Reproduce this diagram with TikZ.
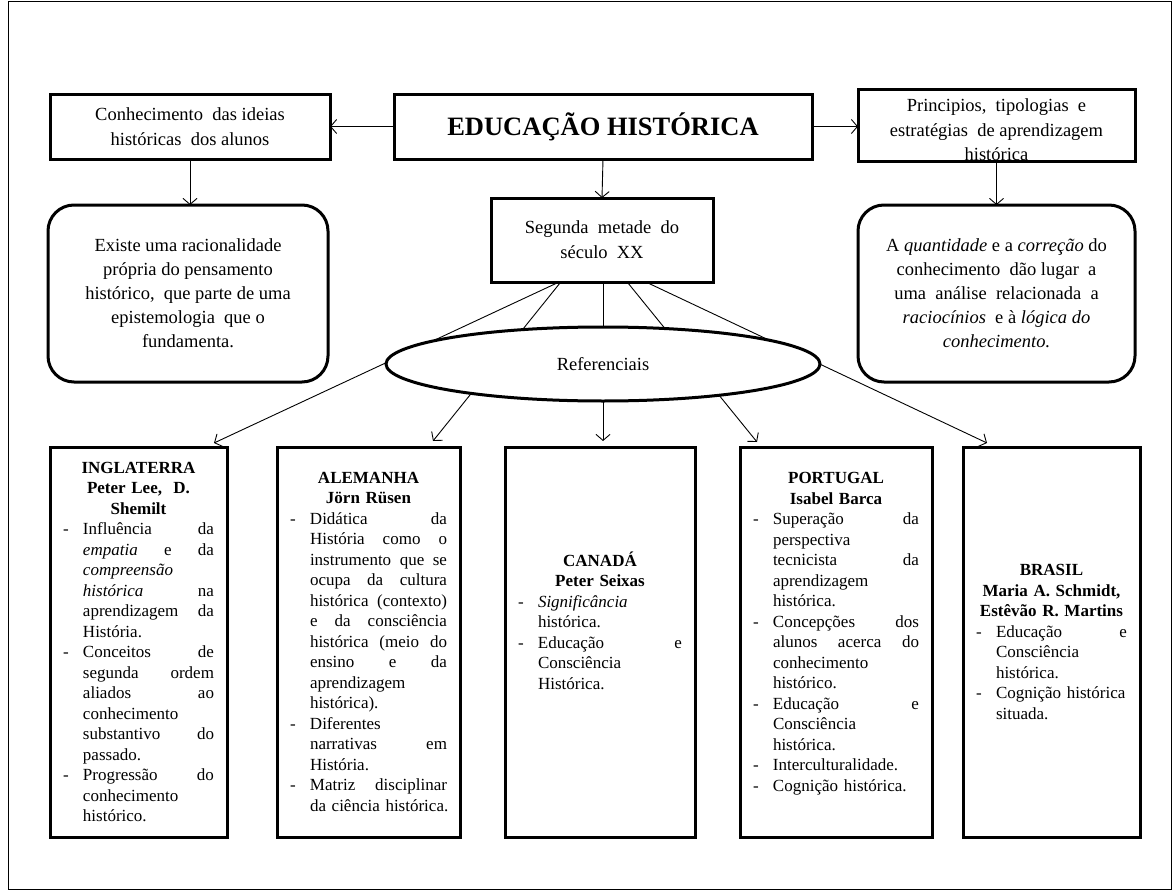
\documentclass[tikz,border=0pt]{standalone}
\usepackage{fontspec}
\setmainfont{Liberation Serif}
\usetikzlibrary{arrows.meta,shapes.geometric}
% first line of an item (with dash) and continuation lines
\newcommand{\dl}[1]{\hbox to\hsize{\hbox to 20pt{-\hfil}#1}}
\newcommand{\cl}[1]{\hbox to\hsize{\hskip20pt #1}}
\newcommand{\hdr}[1]{{\centering\bfseries #1\par}}
\newcommand{\bottompad}[1]{\hbox to\hsize{\vrule width0pt height#1 depth0pt\hfil}}
\tikzset{
  arr/.style={-{Straight Barb[length=6pt,width=14pt]}, line width=0.9pt},
  topbox/.style={draw, line width=3pt, inner sep=0pt, outer sep=0pt, align=center,
    font=\fontsize{18.5}{25}\selectfont},
  roundbox/.style={topbox, rounded corners=26pt, font=\fontsize{18.5}{24}\selectfont},
  botbox/.style={draw, line width=3pt, inner xsep=13pt, inner ysep=0pt, outer sep=0pt,
    minimum height=390pt, font=\fontsize{17}{20.5}\selectfont},
}
\begin{document}
\begin{tikzpicture}[x=1pt,y=-1pt]
\useasboundingbox (0,0) rectangle (1173,891);
\draw[line width=1.5pt] (8.5,1.5) rectangle (1171.5,889.5);

% top row
\node[topbox, minimum width=280, minimum height=65] (lt) at (190,126.5)
  {Conhecimento\ \ das ideias\\históricas\ \ dos alunos};
\node[topbox, minimum width=418, minimum height=65, font=\fontsize{26.5}{30}\selectfont] (edu) at (603,126.5)
  {\textbf{EDUCAÇÃO HISTÓRICA}};
\node[topbox, minimum width=277, minimum height=67, font=\fontsize{18.5}{24.5}\selectfont] (rt) at (996.5,125.5)
  {\rule{0pt}{22pt}Principios,\ \ tipologias\ \ e\\estratégias\ \ de aprendizagem\\histórica};

\node[roundbox, minimum width=280, minimum height=177] (lr) at (188,293.5)
  {Existe\ uma racionalidade\\própria do pensamento\\histórico,\ \ que parte de uma\\epistemologia\ \ que o\\fundamenta.};
\node[roundbox, minimum width=277, minimum height=177] (rr) at (996.5,293.5)
  {A \textit{quantidade} e a \textit{correção} do\\conhecimento\ \ dão lugar\ \ a\\uma\ \ análise\ \ relacionada\ \ a\\\textit{raciocínios}\ \ e à \textit{lógica do}\\\textit{conhecimento.}};

\node[topbox, minimum width=222, minimum height=84] (seg) at (602,240)
  {Segunda\ \ metade\ \ do\\século\ \ XX};

% bottom boxes
\node[botbox, text width=151pt] (ing) at (138.5,642)
  {\hdr{INGLATERRA\\Peter Lee,\ \ D.\\Shemilt}
   \dl{Influência\hfill da}
   \cl{\textit{empatia}\hfill e\hfill da}
   \cl{\textit{compreensão}\hfill}
   \cl{\textit{histórica}\hfill na}
   \cl{aprendizagem\hfill da}
   \cl{História.\hfill}
   \dl{Conceitos\hfill de}
   \cl{segunda\hfill ordem}
   \cl{aliados\hfill ao}
   \cl{conhecimento\hfill}
   \cl{substantivo\hfill do}
   \cl{passado.\hfill}
   \dl{Progressão\hfill do}
   \cl{conhecimento\hfill}
   \cl{histórico.\hfill}};
\node[botbox, text width=157pt] (ale) at (368.5,642)
  {\hdr{ALEMANHA\\Jörn Rüsen}
   \dl{Didática\hfill da}
   \cl{História\hfill como\hfill o}
   \cl{instrumento\hfill que\hfill se}
   \cl{ocupa\hfill da\hfill cultura}
   \cl{histórica\hfill (contexto)}
   \cl{e\hfill da\hfill consciência}
   \cl{histórica\hfill (meio\hfill do}
   \cl{ensino\hfill e\hfill da}
   \cl{aprendizagem\hfill}
   \cl{histórica).\hfill}
   \dl{Diferentes\hfill}
   \cl{narrativas\hfill em}
   \cl{História.\hfill}
   \dl{Matriz\hfill disciplinar}
   \cl{da ciência histórica.\hfill}};
\node[botbox, text width=164pt] (can) at (600,642)
  {\hdr{CANADÁ\\Peter Seixas}
   \dl{\textit{Significância}\hfill}
   \cl{histórica.\hfill}
   \dl{Educação\hfill e}
   \cl{Consciência\hfill}
   \cl{Histórica.\hfill}
   \bottompad{42pt}};
\node[botbox, text width=166pt] (por) at (836,642)
  {\hdr{PORTUGAL\\Isabel Barca}
   \dl{Superação\hfill da}
   \cl{perspectiva\hfill}
   \cl{tecnicista\hfill da}
   \cl{aprendizagem\hfill}
   \cl{histórica.\hfill}
   \dl{Concepções\hfill dos}
   \cl{alunos\hfill acerca\hfill do}
   \cl{conhecimento\hfill}
   \cl{histórico.\hfill}
   \dl{Educação\hfill e}
   \cl{Consciência\hfill}
   \cl{histórica.\hfill}
   \dl{Interculturalidade.\hfill}
   \dl{Cognição histórica.\hfill}
   \bottompad{14pt}};
\node[botbox, text width=151pt] (bra) at (1051.5,642)
  {\hdr{BRASIL\\Maria A. Schmidt,\\Estêvão R. Martins}
   \dl{Educação\hfill e}
   \cl{Consciência\hfill}
   \cl{histórica.\hfill}
   \dl{Cognição histórica\hfill}
   \cl{situada.\hfill}};

% connectors top
\draw[arr] (edu.west) -- (lt.east);
\draw[arr] (edu.east) -- (rt.west |- edu.east);
\draw[arr] (edu.south) -- (seg.north);
\draw[arr] (lt.south) -- (lt.south |- lr.north);
\draw[arr] (rt.south) -- (rt.south |- rr.north);

% fan from seg
\coordinate (s1) at (557,283);
\coordinate (s2) at (560,283);
\coordinate (s3) at (603,283);
\coordinate (s4) at (628,283);
\coordinate (s5) at (648,283);
\coordinate (t1) at (214,443);
\coordinate (t2) at (433,441);
\coordinate (t3) at (603,441);
\coordinate (t4) at (757,442);
\coordinate (t5) at (987,443);
\draw[arr] (s1) -- (t1);
\draw[arr] (s2) -- (t2);
\draw[arr] (s3) -- (t3);
\draw[arr] (s4) -- (t4);
\draw[arr] (s5) -- (t5);

\node[ellipse, draw, line width=3pt, fill=white, minimum width=434, minimum height=74, inner sep=0pt,
  font=\fontsize{18.5}{22}\selectfont] (ref) at (603,364) {Referenciais};
\end{tikzpicture}
\end{document}
